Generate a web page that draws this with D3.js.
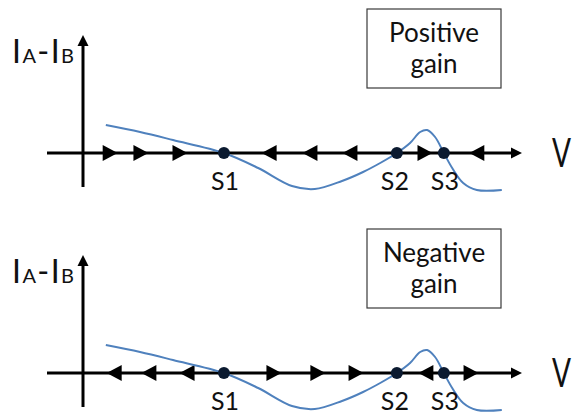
<!DOCTYPE html>
<html>
<head>
<meta charset="utf-8">
<script src="https://cdn.jsdelivr.net/npm/d3@7"></script>
<style>
  html, body { margin: 0; padding: 0; background: #fff; }
  svg { display: block; font-family: Lato, "Open Sans", sans-serif; }
</style>
</head>
<body>
<svg id="chart" width="573" height="413"></svg>
<script>
// ---------- data ----------
// I-V curve (V in arbitrary units, IA-IB in arbitrary units)
const curveV = [0.52, 1.30, 2.05, 3.21, 3.99, 4.76, 5.28, 5.90, 6.38, 6.77, 7.15, 7.45, 7.68, 7.84, 8.02, 8.22, 8.41, 8.66, 8.97, 9.54];
const curveI = [2.8, 2.1, 1.3, 0.0, -1.5, -3.3, -3.6, -2.8, -1.9, -1.0, 0.0, 1.0, 2.1, 2.3, 1.6, 0.0, -1.5, -3.0, -3.7, -3.7];
// stable / unstable points
const pointLabels = ["S1", "S2", "S3"];
const pointV = [3.21, 7.15, 8.22];
// panel titles
const panelTitles = [["Positive", "gain"], ["Negative", "gain"]];
// flow arrows along V axis (+1 = towards higher V, -1 = towards lower V)
const flowV_pos = [0.62, 1.32, 2.21, 4.24, 5.17, 6.08, 7.79, 8.97];
const flowDir_pos = [1, 1, 1, -1, -1, -1, 1, -1];
const flowV_neg = [0.71, 1.50, 2.37, 4.35, 5.35, 6.22, 7.81, 8.84];
const flowDir_neg = [-1, -1, -1, 1, 1, 1, -1, 1];
const axisVRange = [-0.82, 10];
const axisIRange = [-3.4, 11.8];

// ---------- layout ----------
const svg = d3.select("#chart");
const x = d3.scaleLinear().domain([0, 10]).range([83, 522]);
const y = d3.scaleLinear().domain([0, 1]).range([0, -10]);
const panelOrigins = [153, 373];
const curveColor = "#4f81bd";

const panels = [
  { title: panelTitles[0], flowV: flowV_pos, flowDir: flowDir_pos },
  { title: panelTitles[1], flowV: flowV_neg, flowDir: flowDir_neg }
];

const line = d3.line()
  .x((d, i) => x(curveV[i]))
  .y((d, i) => y(curveI[i]))
  .curve(d3.curveCatmullRom.alpha(0.5));

panels.forEach((p, pi) => {
  const g = svg.append("g").attr("transform", `translate(0,${panelOrigins[pi]})`);

  // title box
  const bx = 367, by = -144, bw = 134, bh = 79;
  g.append("rect").attr("x", bx).attr("y", by).attr("width", bw).attr("height", bh)
    .attr("fill", "#fff").attr("stroke", "#3a3a3a").attr("stroke-width", 1.2);
  g.append("text").attr("x", bx + bw / 2).attr("y", by + 33)
    .attr("text-anchor", "middle").attr("font-size", 26).attr("fill", "#111").text(p.title[0]);
  g.append("text").attr("x", bx + bw / 2).attr("y", by + 64)
    .attr("text-anchor", "middle").attr("font-size", 26).attr("fill", "#111").text(p.title[1]);

  // horizontal axis
  const xa0 = x(axisVRange[0]), xa1 = x(axisVRange[1]);
  g.append("line").attr("x1", xa0).attr("x2", xa1 - 8).attr("y1", y(0)).attr("y2", y(0))
    .attr("stroke", "#000").attr("stroke-width", 3);
  g.append("path").attr("d", `M${xa1},${y(0)} L${xa1 - 11},${y(0) - 5.5} L${xa1 - 11},${y(0) + 5.5} Z`)
    .attr("fill", "#000");
  // vertical axis
  const ya0 = y(axisIRange[0]), ya1 = y(axisIRange[1]);
  g.append("line").attr("x1", x(0)).attr("x2", x(0)).attr("y1", ya0).attr("y2", ya1 + 8)
    .attr("stroke", "#000").attr("stroke-width", 3);
  g.append("path").attr("d", `M${x(0)},${ya1} L${x(0) - 5.5},${ya1 + 11} L${x(0) + 5.5},${ya1 + 11} Z`)
    .attr("fill", "#000");

  // axis labels
  const lab = g.append("text").attr("x", 12).attr("y", -90).attr("fill", "#111")
    .attr("textLength", 62).attr("lengthAdjust", "spacing");
  lab.append("tspan").attr("font-size", 32).text("I");
  lab.append("tspan").attr("font-size", 20).text("A");
  lab.append("tspan").attr("font-size", 32).text("-");
  lab.append("tspan").attr("font-size", 32).text("I");
  lab.append("tspan").attr("font-size", 20).text("B");

  g.append("text").attr("x", 552).attr("y", 14).attr("font-size", 40).attr("fill", "#111")
    .attr("textLength", 19).attr("lengthAdjust", "spacingAndGlyphs").text("V");

  // flow arrows
  g.selectAll("path.flow").data(p.flowV).enter().append("path")
    .attr("class", "flow")
    .attr("d", "M-7.5,-8 L7.5,0 L-7.5,8 Z")
    .attr("transform", (d, i) => `translate(${x(d)},${y(0)}) scale(${p.flowDir[i]},1)`)
    .attr("fill", "#000");

  // curve
  g.append("path").datum(curveV).attr("d", line)
    .attr("fill", "none").attr("stroke", curveColor).attr("stroke-width", 2);

  // points
  g.selectAll("circle.pt").data(pointV).enter().append("circle")
    .attr("class", "pt").attr("cx", d => x(d)).attr("cy", y(0)).attr("r", 6)
    .attr("fill", "#0b1a30");
  g.selectAll("text.pl").data(pointLabels).enter().append("text")
    .attr("class", "pl")
    .attr("x", (d, i) => x(pointV[i]) + (i === 1 ? -2 : 1))
    .attr("y", 37).attr("text-anchor", "middle").attr("font-size", 25).attr("fill", "#111")
    .text(d => d);
});
</script>
</body>
</html>
